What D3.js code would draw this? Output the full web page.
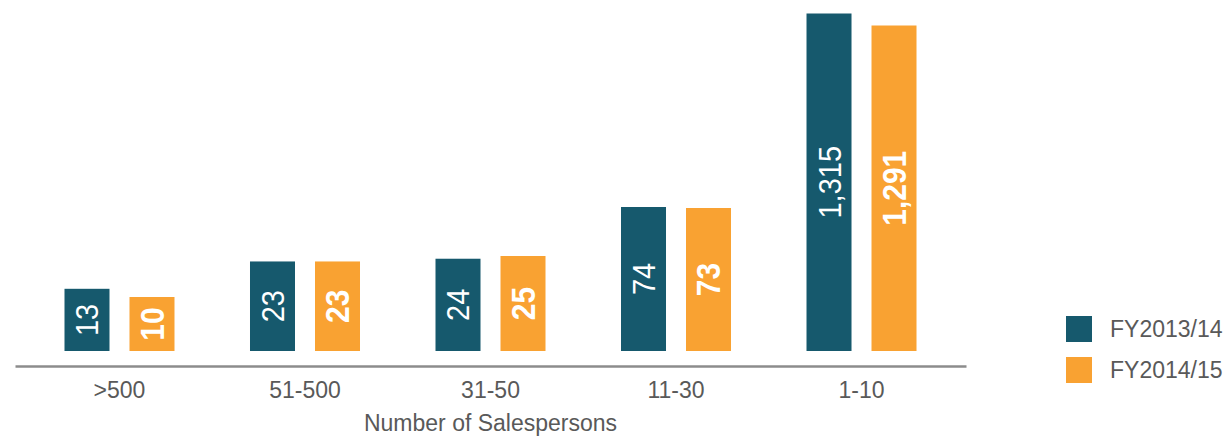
<!DOCTYPE html>
<html>
<head>
<meta charset="utf-8">
<script src="https://cdn.jsdelivr.net/npm/d3@7"></script>
<style>
  html, body { margin: 0; padding: 0; background: #fff; }
  svg { display: block; }
  text { font-family: "Liberation Sans", Arial, Helvetica, sans-serif; }
</style>
</head>
<body>
<svg id="chart" width="1230" height="436"></svg>
<script>
// ---- data ----
const categories = [">500", "51-500", "31-50", "11-30", "1-10"];
const seriesNames = ["FY2013/14", "FY2014/15"];
const fy2013 = [13, 23, 24, 74, 1315];
const fy2014 = [10, 23, 25, 73, 1291];
const axisTitle = "Number of Salespersons";

const colors = ["#16596d", "#f9a232"];
const seriesValues = [fy2013, fy2014];

const svg = d3.select("#chart");

// piecewise (broken) value scale, as in the original infographic
const y = d3.scaleLinear()
  .domain([0, 10, 25, 75, 1250, 1320])
  .range([351, 297, 256, 206, 46, 11]);

const x0 = d3.scaleBand()
  .domain(categories)
  .range([15, 966])
  .paddingInner(0)
  .paddingOuter(0.0633);

const x1 = d3.scaleBand()
  .domain(seriesNames)
  .range([0, x0.bandwidth()])
  .paddingInner(0.3077)
  .paddingOuter(0.5808);

const fmt = d3.format(",");

const groups = svg.append("g").selectAll("g")
  .data(categories)
  .join("g")
  .attr("transform", d => `translate(${x0(d)},0)`);

groups.selectAll("rect")
  .data((c, i) => seriesNames.map((s, j) => ({ s, j, v: seriesValues[j][i] })))
  .join("rect")
  .attr("x", d => x1(d.s))
  .attr("width", x1.bandwidth())
  .attr("y", d => y(d.v))
  .attr("height", d => y(0) - y(d.v))
  .attr("fill", d => colors[d.j]);

groups.selectAll("text.val")
  .data((c, i) => seriesNames.map((s, j) => ({ s, j, v: seriesValues[j][i] })))
  .join("text")
  .attr("class", "val")
  .attr("transform", d => {
    const cx = x1(d.s) + x1.bandwidth() / 2;
    const cy = (y(d.v) + y(0)) / 2;
    return `translate(${cx},${cy}) scale(1.1,1) rotate(-90)`;
  })
  .attr("text-anchor", "middle")
  .attr("dy", "0.36em")
  .attr("fill", "#fff")
  .attr("font-size", d => d.j === 1 ? 30 : 29)
  .attr("font-weight", d => d.j === 1 ? "bold" : "normal")
  .text(d => fmt(d.v));

// axis
const axis = svg.append("g")
  .attr("transform", "translate(0,366)")
  .call(d3.axisBottom(x0).tickSize(0).tickSizeOuter(0).tickPadding(16));
axis.select(".domain").attr("stroke", "#8c8c8c").attr("stroke-width", 2.5);
axis.selectAll(".tick text")
  .attr("font-size", 23)
  .attr("fill", "#595959")
  .style("font-family", "'Liberation Sans', Arial, sans-serif");

svg.append("text")
  .attr("x", 490.5)
  .attr("y", 431)
  .attr("text-anchor", "middle")
  .attr("font-size", 23)
  .attr("fill", "#595959")
  .text(axisTitle);

// legend
const legend = svg.append("g").selectAll("g")
  .data(seriesNames)
  .join("g")
  .attr("transform", (d, i) => `translate(1066,${316 + i * 41})`);
legend.append("rect")
  .attr("width", 26).attr("height", 26)
  .attr("fill", (d, i) => colors[i]);
legend.append("text")
  .attr("x", 44)
  .attr("y", 13)
  .attr("dy", "0.36em")
  .attr("font-size", 23)
  .attr("fill", "#595959")
  .text(d => d);
</script>
</body>
</html>
